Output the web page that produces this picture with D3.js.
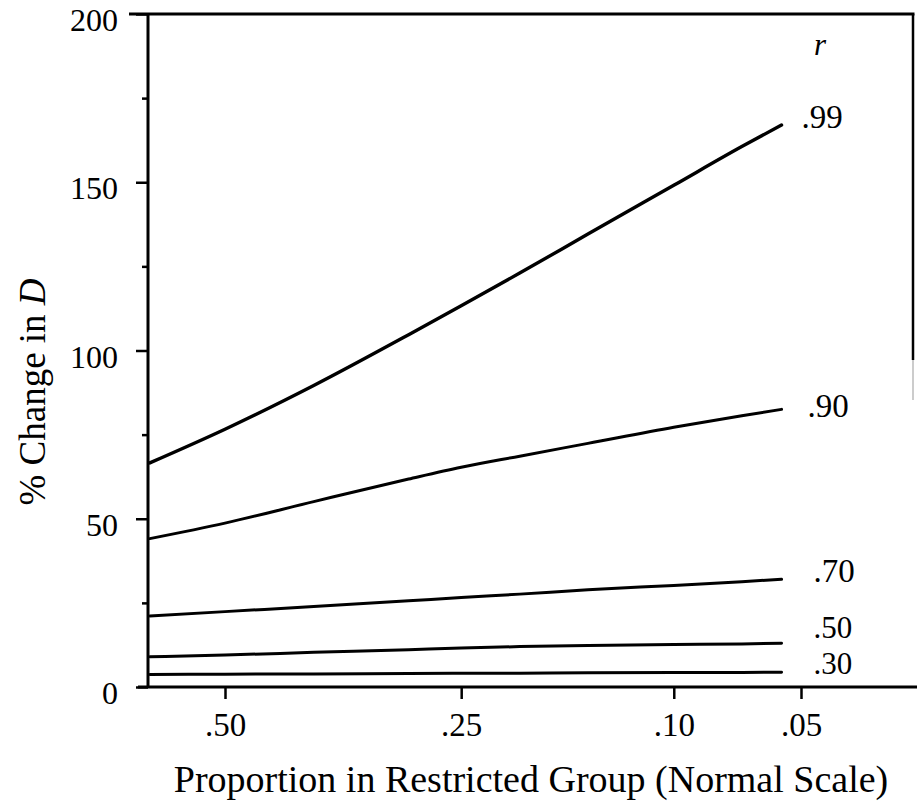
<!DOCTYPE html>
<html>
<head>
<meta charset="utf-8">
<script src="https://cdn.jsdelivr.net/npm/d3@7"></script>
<style>
  html, body { margin: 0; padding: 0; background: #fff; }
  svg { display: block; }
  text { font-family: "Liberation Serif", "DejaVu Serif", serif; fill: #000; }
</style>
</head>
<body>
<svg id="chart" width="917" height="805"></svg>
<script>
// ---- data ----
const proportions = [0.585, 0.50, 0.40, 0.30, 0.25, 0.20, 0.15, 0.10, 0.07, 0.056];
const r99 = [66.6, 76.6, 89.6, 104.7, 113.3, 123.0, 134.6, 149.1, 160.6, 167.0];
const r90 = [44.1, 48.7, 55.1, 61.8, 65.3, 68.6, 72.4, 77.2, 80.6, 82.5];
const r70 = [21.1, 22.4, 23.9, 25.6, 26.6, 27.6, 28.9, 30.2, 31.3, 32.0];
const r50 = [9.0, 9.5, 10.3, 11.1, 11.6, 12.0, 12.3, 12.6, 12.8, 13.0];
const r30 = [3.7, 3.8, 3.9, 4.0, 4.1, 4.1, 4.2, 4.3, 4.3, 4.4];
const seriesLabels = [".99", ".90", ".70", ".50", ".30"];
const seriesValues = [r99, r90, r70, r50, r30];
const xTickProps = [0.50, 0.25, 0.10, 0.05];
const xTickLabels = [".50", ".25", ".10", ".05"];
const yTicks = [0, 50, 100, 150, 200];
const yMinorTicks = [25, 75, 125, 175];
const xTitle = "Proportion in Restricted Group (Normal Scale)";
const legendTitle = "r";

// inverse standard normal CDF (Acklam) – used as the axis transform
function probit(p) {
  const a = [-3.969683028665376e+01, 2.209460984245205e+02, -2.759285104469687e+02, 1.383577518672690e+02, -3.066479806614716e+01, 2.506628277459239e+00];
  const b = [-5.447609879822406e+01, 1.615858368580409e+02, -1.556989798598866e+02, 6.680131188771972e+01, -1.328068155288572e+01];
  const c = [-7.784894002430293e-03, -3.223964580411365e-01, -2.400758277161838e+00, -2.549732539343734e+00, 4.374664141464968e+00, 2.938163982698783e+00];
  const d = [7.784695709041462e-03, 3.224671290700398e-01, 2.445134137142996e+00, 3.754408661907416e+00];
  const pl = 0.02425, ph = 1 - pl;
  let q, r;
  if (p < pl) {
    q = Math.sqrt(-2 * Math.log(p));
    return (((((c[0]*q+c[1])*q+c[2])*q+c[3])*q+c[4])*q+c[5]) / ((((d[0]*q+d[1])*q+d[2])*q+d[3])*q+1);
  } else if (p <= ph) {
    q = p - 0.5; r = q * q;
    return (((((a[0]*r+a[1])*r+a[2])*r+a[3])*r+a[4])*r+a[5])*q / (((((b[0]*r+b[1])*r+b[2])*r+b[3])*r+b[4])*r+1);
  } else {
    q = Math.sqrt(-2 * Math.log(1 - p));
    return -(((((c[0]*q+c[1])*q+c[2])*q+c[3])*q+c[4])*q+c[5]) / ((((d[0]*q+d[1])*q+d[2])*q+d[3])*q+1);
  }
}
const zOf = p => probit(1 - p);

// ---- layout ----
const svg = d3.select("#chart");
const axisX = 148, topY = 14, bottomY = 687, rightX = 913;

const x = d3.scaleLinear().domain([0, zOf(0.05)]).range([225, 801]);
const y = d3.scaleLinear().domain([0, 200]).range([bottomY, topY]);

const lineW = 3;

// frame: top border, right border, left spine, bottom axis line
svg.append("line").attr("x1", 129).attr("x2", rightX + 1.5).attr("y1", topY).attr("y2", topY)
  .attr("stroke", "#000").attr("stroke-width", lineW);
svg.append("line").attr("x1", rightX).attr("x2", rightX).attr("y1", topY).attr("y2", 360)
  .attr("stroke", "#000").attr("stroke-width", 2.5);
svg.append("line").attr("x1", rightX).attr("x2", rightX).attr("y1", 360).attr("y2", 400)
  .attr("stroke", "#bbb").attr("stroke-width", 1.5);
svg.append("line").attr("x1", axisX).attr("x2", axisX).attr("y1", topY).attr("y2", bottomY)
  .attr("stroke", "#000").attr("stroke-width", lineW);
svg.append("line").attr("x1", 138).attr("x2", 917).attr("y1", bottomY).attr("y2", bottomY)
  .attr("stroke", "#000").attr("stroke-width", lineW);

// y axis major ticks + labels
const yAxis = d3.axisLeft(y).tickValues(yTicks).tickSize(12).tickPadding(18).tickFormat(d3.format("d"));
const gy = svg.append("g").attr("transform", `translate(${axisX},0)`).call(yAxis);
gy.select(".domain").remove();
gy.selectAll(".tick line").attr("stroke", "#000").attr("stroke-width", 2.5);
gy.selectAll(".tick text").attr("font-size", 32).attr("dy", "0.52em")
  .attr("font-family", "Liberation Serif, serif").attr("fill", "#000");

// y axis minor ticks
const yAxisMinor = d3.axisLeft(y).tickValues(yMinorTicks).tickSize(6).tickFormat("");
const gym = svg.append("g").attr("transform", `translate(${axisX},0)`).call(yAxisMinor);
gym.select(".domain").remove();
gym.selectAll(".tick line").attr("stroke", "#000").attr("stroke-width", 2.5);

// x axis ticks + labels
const xAxis = d3.axisBottom(x).tickValues(xTickProps.map(zOf)).tickSize(12).tickPadding(14)
  .tickFormat((d, i) => xTickLabels[i]);
const gx = svg.append("g").attr("transform", `translate(0,${bottomY})`).call(xAxis);
gx.select(".domain").remove();
gx.selectAll(".tick line").attr("stroke", "#000").attr("stroke-width", 2.5);
gx.selectAll(".tick text").attr("font-size", 33).attr("font-family", "Liberation Serif, serif").attr("fill", "#000");

// series lines
const line = d3.line()
  .x(d => x(zOf(d[0])))
  .y(d => y(d[1]))
  .curve(d3.curveMonotoneX);

const labelDx = [20, 26, 32, 32, 32];
const labelDy = [3, 8, 3, -5, 2];
const labelSize = [33, 33, 33, 31, 31];
seriesValues.forEach((vals, i) => {
  const pts = proportions.map((p, j) => [p, vals[j]]);
  svg.append("path").datum(pts)
    .attr("d", line)
    .attr("fill", "none")
    .attr("stroke", "#000")
    .attr("stroke-width", i === 0 ? 3.4 : 3)
    .attr("stroke-linecap", "round");
  const last = pts[pts.length - 1];
  svg.append("text")
    .attr("x", x(zOf(last[0])) + labelDx[i])
    .attr("y", y(last[1]) + labelDy[i])
    .attr("font-size", labelSize[i])
    .text(seriesLabels[i]);
});

// legend title "r"
svg.append("text").attr("x", 814).attr("y", 55)
  .attr("font-size", 31).attr("font-style", "italic").text(legendTitle);

// axis titles
svg.append("text").attr("x", 531).attr("y", 792).attr("text-anchor", "middle")
  .attr("font-size", 38).text(xTitle);

const yt = svg.append("text").attr("transform", "translate(45,392) rotate(-90)")
  .attr("text-anchor", "middle").attr("font-size", 37);
yt.append("tspan").text("% Change in ");
yt.append("tspan").attr("font-style", "italic").text("D");
</script>
</body>
</html>
